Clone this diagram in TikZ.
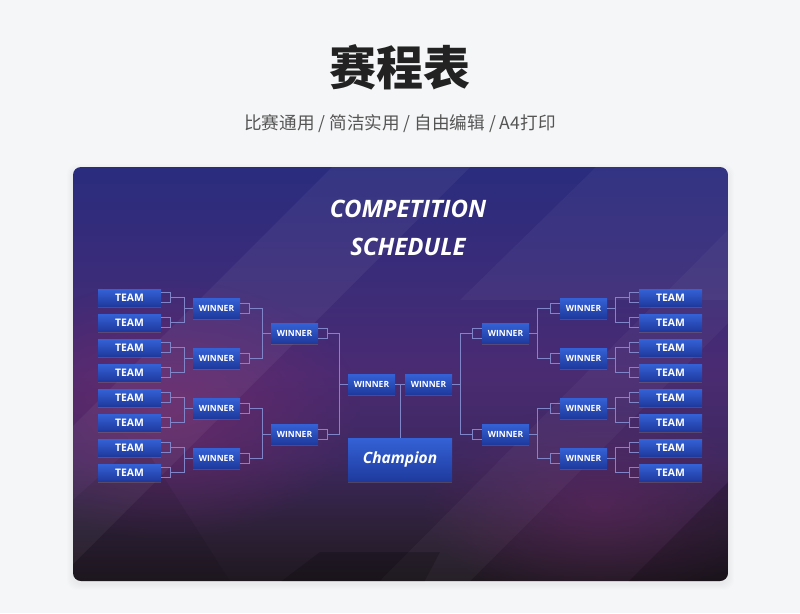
\documentclass[tikz,border=0pt]{standalone}
\usepackage{fontspec}
\setmainfont{Open Sans}
\newfontfamily\cjkfont{Noto Sans CJK SC}
\usetikzlibrary{shadows,fadings}

\definecolor{pagebg}{HTML}{F5F6F7}
\definecolor{titlecol}{HTML}{222222}
\definecolor{subcol}{HTML}{555555}
\definecolor{cardtop}{HTML}{2A2C7E}
\definecolor{cardup}{HTML}{382C7A}
\definecolor{cardmid}{HTML}{4A2B72}
\definecolor{cardlow}{HTML}{3E2860}
\definecolor{carddeep}{HTML}{2C2036}
\definecolor{cardbot}{HTML}{1F1820}
\definecolor{glowcol}{HTML}{74296A}
\definecolor{boxtop}{HTML}{3462D6}
\definecolor{boxbot}{HTML}{1F3A9E}
\definecolor{linkcol}{HTML}{8084C8}

\pgfdeclareverticalshading{cardshade}{100bp}{color(0bp)=(cardbot); color(25bp)=(cardbot);
  color(31bp)=(carddeep); color(40bp)=(cardlow); color(50bp)=(cardmid); color(64bp)=(cardup);
  color(75bp)=(cardtop); color(100bp)=(cardtop)}
\tikzfading[name=glowfade, inner color=transparent!0, outer color=transparent!100]

\tikzset{
  box/.style={inner sep=0pt, top color=boxtop, bottom color=boxbot, text=white,
              drop shadow={shadow xshift=0pt, shadow yshift=-1.5pt, opacity=.35}},
  team/.style={box, minimum width=63pt, minimum height=17pt,
               font=\fontsize{10.4}{12}\selectfont\bfseries},
  winner/.style={box, minimum width=47pt, minimum height=20pt,
                 font=\fontsize{8.5}{10}\selectfont\bfseries},
  champ/.style={box, minimum width=104pt, minimum height=43pt,
                font=\fontsize{15.5}{18}\selectfont\bfseries\itshape},
  heading/.style={text=white, font=\fontsize{24}{27}\selectfont\bfseries\itshape},
  link/.style={draw=linkcol, line width=.8pt},
}

\begin{document}
\begin{tikzpicture}[x=1pt, y=-1pt]
  \useasboundingbox (0,0) rectangle (800,613);
  \fill[pagebg] (0,0) rectangle (800,613);

  % page title
  \node[font=\cjkfont\bfseries\fontsize{47}{50}\selectfont, text=titlecol] (title) at (400,67) {赛程表};
  \node[font=\cjkfont\fontsize{17.6}{20}\selectfont, text=subcol] (subtitle) at (400,124)
    {比赛通用 / 简洁实用 / 自由编辑 / A4打印};

  % card with soft shadow
  \foreach \k in {1,...,6}
    \fill[black, opacity=.008, rounded corners=10pt] ({73-\k},{170-\k}) rectangle ({728+\k},{584+\k});
  \begin{scope}
    \clip[rounded corners=8pt] (73,167) rectangle (728,581);
    \shade[shading=cardshade] (73,167) rectangle (728,581);
    \fill[glowcol, path fading=glowfade, fill opacity=.7] (170,410) ellipse (190 and 130);
    \fill[glowcol, path fading=glowfade, fill opacity=.45] (600,505) ellipse (180 and 100);
    \fill[white, opacity=.05] (73,426) -- (332,167) -- (470,167) -- (73,564) -- cycle;
    \fill[white, opacity=.04] (596,167) -- (728,167) -- (728,300) -- (460,300) -- cycle;
    \fill[white, opacity=.035] (470,581) -- (728,323) -- (728,230) -- (380,581) -- cycle;
    \fill[black, opacity=.08] (73,581) -- (73,500) -- (140,440) -- (230,581) -- cycle;
    \fill[black, opacity=.18] (270,590) -- (320,552) -- (440,552) -- (420,590) -- cycle;
    \fill[black, opacity=.18] (620,590) -- (728,482) -- (728,590) -- cycle;
  \end{scope}

  \node[heading] (head1) at (408,209) {COMPETITION};
  \node[heading] (head2) at (408,247) {SCHEDULE};

  % bracket boxes
  \foreach \i in {1,...,8} {
    \node[team] (tl\i) at (129.5,{272.5+25*\i}) {TEAM};
    \node[team] (tr\i) at (670.5,{272.5+25*\i}) {TEAM};
  }
  \foreach \i/\y in {1/308, 2/358, 3/408, 4/458} {
    \node[winner] (wl\i) at (216.5,\y) {WINNER};
    \node[winner] (wr\i) at (583.5,\y) {WINNER};
  }
  \foreach \i/\y in {1/333, 2/434} {
    \node[winner] (sl\i) at (294.5,\y) {WINNER};
    \node[winner] (sr\i) at (505.5,\y) {WINNER};
  }
  \node[winner] (fl) at (371.5,384) {WINNER};
  \node[winner] (fr) at (428.5,384) {WINNER};
  \node[champ] (champ) at (400,459.5) {\raisebox{-1.5pt}{Champion}};

  % stubs on the outgoing side
  \foreach \n in {tl1,tl2,tl3,tl4,tl5,tl6,tl7,tl8,wl1,wl2,wl3,wl4,sl1,sl2}
    \draw[link] ([yshift=5pt]\n.east) -- ++(9,0) -- ++(0,10) -- ++(-9,0);
  \foreach \n in {tr1,tr2,tr3,tr4,tr5,tr6,tr7,tr8,wr1,wr2,wr3,wr4,sr1,sr2}
    \draw[link] ([yshift=5pt]\n.west) -- ++(-9,0) -- ++(0,10) -- ++(9,0);

  % brackets
  \foreach \w/\a/\b in {wl1/tl1/tl2, wl2/tl3/tl4, wl3/tl5/tl6, wl4/tl7/tl8,
                        sl1/wl1/wl2, sl2/wl3/wl4, fl/sl1/sl2}
    \draw[link] ([xshift=9pt]\a.east) -| ([xshift=-8pt]\w.west) |- ([xshift=9pt]\b.east)
                ([xshift=-8pt]\w.west) -- (\w.west);
  \foreach \w/\a/\b in {wr1/tr1/tr2, wr2/tr3/tr4, wr3/tr5/tr6, wr4/tr7/tr8,
                        sr1/wr1/wr2, sr2/wr3/wr4, fr/sr1/sr2}
    \draw[link] ([xshift=-9pt]\a.west) -| ([xshift=8pt]\w.east) |- ([xshift=-9pt]\b.west)
                ([xshift=8pt]\w.east) -- (\w.east);
  \draw[link] (fl.east) -- (fr.west) (champ.north |- fl.east) -- (champ.north);
\end{tikzpicture}
\end{document}
